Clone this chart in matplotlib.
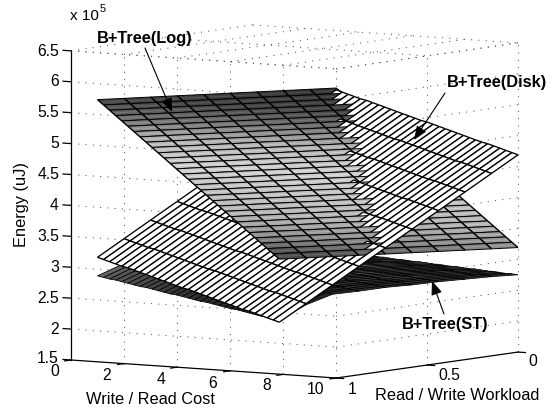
"""energy surfaces of the three B+Tree variants, matlab style 3D view"""
import numpy as np
import matplotlib
matplotlib.use("Agg")
import matplotlib.pyplot as plt
from matplotlib.collections import PolyCollection
from mpl_toolkits.mplot3d import proj3d

plt.rcParams['font.family'] = ['Liberation Sans', 'DejaVu Sans']

W, H = 557, 409

x_cost = [1, 2, 3, 4, 5, 6, 7, 8, 9, 10]
y_workload = [j / 30 for j in range(31)]

x_ticks = [0, 2, 4, 6, 8, 10]
y_ticks = [0, 0.5, 1]
z_ticks = [1.5, 2, 2.5, 3, 3.5, 4, 4.5, 5, 5.5, 6, 6.5]
z_tick_labels = ['1.5', '2', '2.5', '3', '3.5', '4', '4.5', '5', '5.5', '6', '6.5']

# energy in units of 1e5 uJ, one row per workload value, one column per cost
log_energy = [
    [2.74, 2.79, 2.84, 2.89, 2.94, 2.99, 3.04, 3.09, 3.14, 3.19],
    [2.84, 2.89, 2.94, 2.99, 3.04, 3.09, 3.14, 3.19, 3.24, 3.29],
    [2.94, 2.99, 3.04, 3.09, 3.14, 3.19, 3.24, 3.29, 3.34, 3.39],
    [3.04, 3.09, 3.14, 3.19, 3.24, 3.29, 3.34, 3.39, 3.44, 3.49],
    [3.14, 3.19, 3.24, 3.29, 3.34, 3.39, 3.44, 3.49, 3.54, 3.59],
    [3.24, 3.29, 3.34, 3.39, 3.44, 3.49, 3.54, 3.59, 3.64, 3.69],
    [3.34, 3.39, 3.44, 3.49, 3.54, 3.59, 3.64, 3.69, 3.74, 3.79],
    [3.44, 3.49, 3.54, 3.59, 3.64, 3.69, 3.74, 3.79, 3.84, 3.89],
    [3.54, 3.59, 3.64, 3.69, 3.74, 3.79, 3.84, 3.89, 3.94, 3.99],
    [3.64, 3.69, 3.74, 3.79, 3.84, 3.89, 3.94, 3.99, 4.04, 4.09],
    [3.74, 3.79, 3.84, 3.89, 3.94, 3.99, 4.04, 4.09, 4.14, 4.19],
    [3.84, 3.89, 3.94, 3.99, 4.04, 4.09, 4.14, 4.19, 4.24, 4.29],
    [3.94, 3.99, 4.04, 4.09, 4.14, 4.19, 4.24, 4.29, 4.34, 4.39],
    [4.04, 4.09, 4.14, 4.19, 4.24, 4.29, 4.34, 4.39, 4.44, 4.49],
    [4.14, 4.19, 4.24, 4.29, 4.34, 4.39, 4.44, 4.49, 4.54, 4.59],
    [4.24, 4.29, 4.34, 4.39, 4.44, 4.49, 4.54, 4.59, 4.64, 4.69],
    [4.34, 4.39, 4.44, 4.49, 4.54, 4.59, 4.64, 4.69, 4.74, 4.79],
    [4.44, 4.49, 4.54, 4.59, 4.64, 4.69, 4.74, 4.79, 4.84, 4.89],
    [4.54, 4.59, 4.64, 4.69, 4.74, 4.79, 4.84, 4.89, 4.94, 4.99],
    [4.64, 4.69, 4.74, 4.79, 4.84, 4.89, 4.94, 4.99, 5.04, 5.09],
    [4.74, 4.79, 4.84, 4.89, 4.94, 4.99, 5.04, 5.09, 5.14, 5.19],
    [4.84, 4.89, 4.94, 4.99, 5.04, 5.09, 5.14, 5.19, 5.24, 5.29],
    [4.94, 4.99, 5.04, 5.09, 5.14, 5.19, 5.24, 5.29, 5.34, 5.39],
    [5.04, 5.09, 5.14, 5.19, 5.24, 5.29, 5.34, 5.39, 5.44, 5.49],
    [5.14, 5.19, 5.24, 5.29, 5.34, 5.39, 5.44, 5.49, 5.54, 5.59],
    [5.24, 5.29, 5.34, 5.39, 5.44, 5.49, 5.54, 5.59, 5.64, 5.69],
    [5.34, 5.39, 5.44, 5.49, 5.54, 5.59, 5.64, 5.69, 5.74, 5.79],
    [5.44, 5.49, 5.54, 5.59, 5.64, 5.69, 5.74, 5.79, 5.84, 5.89],
    [5.54, 5.59, 5.64, 5.69, 5.74, 5.79, 5.84, 5.89, 5.94, 5.99],
    [5.64, 5.69, 5.74, 5.79, 5.84, 5.89, 5.94, 5.99, 6.04, 6.09],
    [5.74, 5.79, 5.84, 5.89, 5.94, 5.99, 6.04, 6.09, 6.14, 6.19],
]

disk_energy = [
    [1.72, 2.05, 2.38, 2.71, 3.04, 3.37, 3.70, 4.03, 4.36, 4.69],
    [1.77, 2.10, 2.43, 2.76, 3.09, 3.42, 3.75, 4.08, 4.41, 4.74],
    [1.82, 2.15, 2.48, 2.81, 3.14, 3.47, 3.80, 4.13, 4.46, 4.79],
    [1.87, 2.20, 2.53, 2.86, 3.19, 3.52, 3.85, 4.18, 4.51, 4.84],
    [1.92, 2.25, 2.58, 2.91, 3.24, 3.57, 3.90, 4.23, 4.56, 4.89],
    [1.97, 2.30, 2.63, 2.96, 3.29, 3.62, 3.95, 4.28, 4.61, 4.94],
    [2.01, 2.34, 2.67, 3.00, 3.33, 3.66, 3.99, 4.32, 4.65, 4.98],
    [2.06, 2.39, 2.72, 3.05, 3.38, 3.71, 4.04, 4.37, 4.70, 5.03],
    [2.11, 2.44, 2.77, 3.10, 3.43, 3.76, 4.09, 4.42, 4.75, 5.08],
    [2.16, 2.49, 2.82, 3.15, 3.48, 3.81, 4.14, 4.47, 4.80, 5.13],
    [2.21, 2.54, 2.87, 3.20, 3.53, 3.86, 4.19, 4.52, 4.85, 5.18],
    [2.26, 2.59, 2.92, 3.25, 3.58, 3.91, 4.24, 4.57, 4.90, 5.23],
    [2.31, 2.64, 2.97, 3.30, 3.63, 3.96, 4.29, 4.62, 4.95, 5.28],
    [2.36, 2.69, 3.02, 3.35, 3.68, 4.01, 4.34, 4.67, 5.00, 5.33],
    [2.41, 2.74, 3.07, 3.40, 3.73, 4.06, 4.39, 4.72, 5.05, 5.38],
    [2.46, 2.79, 3.12, 3.45, 3.78, 4.11, 4.44, 4.77, 5.10, 5.43],
    [2.50, 2.83, 3.16, 3.49, 3.82, 4.15, 4.48, 4.81, 5.14, 5.47],
    [2.55, 2.88, 3.21, 3.54, 3.87, 4.20, 4.53, 4.86, 5.19, 5.52],
    [2.60, 2.93, 3.26, 3.59, 3.92, 4.25, 4.58, 4.91, 5.24, 5.57],
    [2.65, 2.98, 3.31, 3.64, 3.97, 4.30, 4.63, 4.96, 5.29, 5.62],
    [2.70, 3.03, 3.36, 3.69, 4.02, 4.35, 4.68, 5.01, 5.34, 5.67],
    [2.75, 3.08, 3.41, 3.74, 4.07, 4.40, 4.73, 5.06, 5.39, 5.72],
    [2.80, 3.13, 3.46, 3.79, 4.12, 4.45, 4.78, 5.11, 5.44, 5.77],
    [2.85, 3.18, 3.51, 3.84, 4.17, 4.50, 4.83, 5.16, 5.49, 5.82],
    [2.90, 3.23, 3.56, 3.89, 4.22, 4.55, 4.88, 5.21, 5.54, 5.87],
    [2.95, 3.28, 3.61, 3.94, 4.27, 4.60, 4.93, 5.26, 5.59, 5.92],
    [2.99, 3.32, 3.65, 3.98, 4.31, 4.64, 4.97, 5.30, 5.63, 5.96],
    [3.04, 3.37, 3.70, 4.03, 4.36, 4.69, 5.02, 5.35, 5.68, 6.01],
    [3.09, 3.42, 3.75, 4.08, 4.41, 4.74, 5.07, 5.40, 5.73, 6.06],
    [3.14, 3.47, 3.80, 4.13, 4.46, 4.79, 5.12, 5.45, 5.78, 6.11],
    [3.19, 3.52, 3.85, 4.18, 4.51, 4.84, 5.17, 5.50, 5.83, 6.16],
]

st_energy = [
    [1.75, 2.03, 2.23, 2.31, 2.40, 2.47, 2.55, 2.62, 2.69, 2.75],
    [1.79, 2.07, 2.27, 2.35, 2.43, 2.50, 2.58, 2.65, 2.72, 2.78],
    [1.83, 2.10, 2.30, 2.38, 2.47, 2.54, 2.61, 2.68, 2.75, 2.80],
    [1.86, 2.14, 2.34, 2.42, 2.50, 2.57, 2.64, 2.71, 2.77, 2.83],
    [1.90, 2.18, 2.37, 2.45, 2.53, 2.60, 2.67, 2.74, 2.80, 2.86],
    [1.94, 2.21, 2.41, 2.49, 2.57, 2.63, 2.71, 2.77, 2.83, 2.88],
    [1.98, 2.25, 2.44, 2.52, 2.60, 2.67, 2.74, 2.80, 2.86, 2.91],
    [2.02, 2.28, 2.48, 2.56, 2.64, 2.70, 2.77, 2.83, 2.89, 2.94],
    [2.05, 2.32, 2.51, 2.59, 2.67, 2.73, 2.80, 2.86, 2.91, 2.96],
    [2.09, 2.36, 2.55, 2.63, 2.70, 2.76, 2.83, 2.89, 2.94, 2.99],
    [2.13, 2.39, 2.58, 2.66, 2.74, 2.80, 2.86, 2.92, 2.97, 3.02],
    [2.17, 2.43, 2.62, 2.70, 2.77, 2.83, 2.89, 2.95, 3.00, 3.04],
    [2.21, 2.47, 2.65, 2.73, 2.80, 2.86, 2.92, 2.98, 3.03, 3.07],
    [2.24, 2.50, 2.69, 2.77, 2.84, 2.90, 2.95, 3.01, 3.05, 3.10],
    [2.28, 2.54, 2.72, 2.80, 2.87, 2.93, 2.98, 3.04, 3.08, 3.12],
    [2.32, 2.57, 2.76, 2.84, 2.91, 2.96, 3.02, 3.07, 3.11, 3.15],
    [2.36, 2.61, 2.79, 2.87, 2.94, 2.99, 3.05, 3.10, 3.14, 3.18],
    [2.40, 2.65, 2.83, 2.91, 2.97, 3.03, 3.08, 3.12, 3.17, 3.20],
    [2.43, 2.68, 2.86, 2.94, 3.01, 3.06, 3.11, 3.15, 3.19, 3.23],
    [2.47, 2.72, 2.90, 2.98, 3.04, 3.09, 3.14, 3.18, 3.22, 3.26],
    [2.51, 2.76, 2.93, 3.01, 3.07, 3.12, 3.17, 3.21, 3.25, 3.28],
    [2.55, 2.79, 2.97, 3.05, 3.11, 3.16, 3.20, 3.24, 3.28, 3.31],
    [2.59, 2.83, 3.00, 3.08, 3.14, 3.19, 3.23, 3.27, 3.31, 3.34],
    [2.62, 2.86, 3.04, 3.12, 3.18, 3.22, 3.26, 3.30, 3.33, 3.36],
    [2.66, 2.90, 3.07, 3.15, 3.21, 3.25, 3.29, 3.33, 3.36, 3.39],
    [2.70, 2.94, 3.11, 3.19, 3.24, 3.29, 3.33, 3.36, 3.39, 3.42],
    [2.74, 2.97, 3.14, 3.22, 3.28, 3.32, 3.36, 3.39, 3.42, 3.44],
    [2.78, 3.01, 3.18, 3.26, 3.31, 3.35, 3.39, 3.42, 3.45, 3.47],
    [2.81, 3.05, 3.21, 3.29, 3.34, 3.39, 3.42, 3.45, 3.47, 3.50],
    [2.85, 3.08, 3.25, 3.33, 3.38, 3.42, 3.45, 3.48, 3.50, 3.52],
    [2.89, 3.12, 3.28, 3.36, 3.41, 3.45, 3.48, 3.51, 3.53, 3.55],
]

# gray level against energy, the colormap of the log and st surfaces
gray_z = [1.7, 2.5, 2.9, 3.2, 3.6, 4.5, 5.0, 5.4, 5.74, 6.2]
gray_v = [0.08, 0.2, 0.33, 0.55, 0.7, 0.8, 0.7, 0.44, 0.27, 0.2]


def to_px(x, y, z):
    xs, ys, zs = proj3d.proj_transform(x, y, z, ax.get_proj())
    px = ax.transData.transform((xs, ys))
    return px[0], H - px[1], zs


def cells(energy, row_lw, col_lw, white=False, streak=False):
    """depth sorted drawing items of one surface: face, then its four edges"""
    z = np.array(energy)
    out = []
    for j in range(len(y_workload) - 1):
        for i in range(len(x_cost) - 1):
            pts = [to_px(x_cost[i], y_workload[j], z[j, i]),
                   to_px(x_cost[i + 1], y_workload[j], z[j, i + 1]),
                   to_px(x_cost[i + 1], y_workload[j + 1], z[j + 1, i + 1]),
                   to_px(x_cost[i], y_workload[j + 1], z[j + 1, i])]
            a, b, c, d = [p[:2] for p in pts]
            g = 1.0 if white else np.interp(z[j:j + 2, i:i + 2].mean(), gray_z, gray_v)
            items = [([a, b, c, d], (g, g, g, 1), 'none', 0)]
            if streak:
                m0 = ((a[0] + d[0]) / 2, (a[1] + d[1]) / 2)
                m1 = ((b[0] + c[0]) / 2, (b[1] + c[1]) / 2)
                g2 = min(g + 0.1, 1)
                items.append(([m0, m1], 'none', (g2, g2, g2, 1), 0.6))
            items.append(([a, b], 'none', 'k', row_lw))
            items.append(([d, c], 'none', 'k', row_lw))
            items.append(([a, d], 'none', 'k', col_lw))
            items.append(([b, c], 'none', 'k', col_lw))
            out.append((np.mean([p[2] for p in pts]), items))
    return out


fig = plt.figure(figsize=(W / 100, H / 100), dpi=100)
ax = fig.add_axes([0, 0, 400 / W, 400 / H], projection='3d', proj_type='ortho')
ax.computed_zorder = False
ax.view_init(elev=-5.65, azim=-124.6)
ax.set_box_aspect((322, 320, 310.5))
ax.set_axis_off()

# dotted grid on the far walls and on the top plane
grid = dict(color='#555555', lw=0.75, ls=(0, (1, 6)), zorder=1)
for x in x_ticks[1:]:
    ax.plot([x, x], [1, 1], [1.5, 6.5], **grid)
for y in y_ticks[:-1]:
    ax.plot([10, 10], [y, y], [1.5, 6.5], **grid)
for z in z_ticks[1:]:
    ax.plot([0, 10], [1, 1], [z, z], **grid)
    ax.plot([10, 10], [1, 0], [z, z], **grid)
for x in x_ticks:
    ax.plot([x, x], [1, 0], [6.5, 6.5], **grid)
for y in y_ticks:
    ax.plot([0, 10], [y, y], [6.5, 6.5], **grid)

# the axes and their ticks
line = dict(color='k', lw=0.9, zorder=3)
ax.plot([0, 0], [1, 1], [1.5, 6.5], **line)
ax.plot([0, 10], [1, 1], [1.5, 1.5], **line)
ax.plot([10, 10], [1, 0], [1.5, 1.5], **line)
for z in z_ticks:
    ax.plot([0, -0.3], [1, 1], [z, z], **line)
for x in x_ticks:
    ax.plot([x, x], [1, 1.035], [1.5, 1.5], **line)
for y in y_ticks:
    ax.plot([10, 10.28], [y, y], [1.5, 1.5], **line)

ax.set_xlim(0, 10)
ax.set_ylim(0, 1)
ax.set_zlim(1.5, 6.5)

# size and place the axes so that the floor corners land where they should
ax.apply_aspect()
span = to_px(10, 0, 1.5)[0] - to_px(0, 1, 1.5)[0]
size = 400 * 447 / span
ax.set_position([0, 0, size / W, size / H])
ax.apply_aspect()
p = to_px(0, 1, 1.5)
ax.set_position([(71 - p[0]) / W, (p[1] - 360) / H, size / W, size / H])
ax.apply_aspect()

# overlay in pixel coordinates of the picture, for surfaces, texts and arrows
ov = fig.add_axes([0, 0, 1, 1], zorder=5)
ov.set_xlim(0, W)
ov.set_ylim(H, 0)
ov.axis('off')

# st lies behind the other two everywhere, log and disk sort against each other
st_cells = sorted(cells(st_energy, 0.55, 0.55), key=lambda c: -c[0])
top_cells = cells(log_energy, 0.7, 1.0, streak=True) + cells(disk_energy, 0.95, 0.95, white=True)
top_cells.sort(key=lambda c: -c[0])

polys, faces, edges, widths = [], [], [], []
for depth, items in st_cells + top_cells:
    for poly, fc, ec, lw in items:
        polys.append(poly)
        faces.append(fc)
        edges.append(ec)
        widths.append(lw)
ov.add_collection(PolyCollection(polys, facecolors=faces, edgecolors=edges,
                                 linewidths=widths, closed=False, zorder=1))

for z, lab in zip(z_ticks, z_tick_labels):
    py = 358.5 if lab == '1.5' else 360 - (z - 1.5) * 61.8
    ov.text(59, py, lab, ha='right', va='center', fontsize=11.3)
ov.text(55, 372, '0', ha='center', va='center', fontsize=11.3)
for lab, px, py in [('2', 107, 375), ('4', 161, 379), ('6', 213, 383), ('8', 267, 386), ('10', 316, 389)]:
    ov.text(px, py, lab, ha='center', va='center', fontsize=11.3)
for lab, px, py in [('1', 352, 389), ('0.5', 449, 375), ('0', 533, 361)]:
    ov.text(px, py, lab, ha='center', va='center', fontsize=11.3)
ov.text(150, 399, 'Write / Read Cost', ha='center', va='center', fontsize=11.8)
ov.text(457, 396, 'Read / Write Workload', ha='center', va='center', fontsize=11.8)
ov.text(22, 205, 'Energy (uJ)', ha='center', va='center', rotation=90, fontsize=11.8)
ov.text(70, 16, 'x 10', ha='left', va='center', fontsize=11)
ov.text(100, 9, '5', ha='left', va='center', fontsize=8)

arrow = dict(arrowstyle='-|>,head_width=0.28,head_length=0.7', color='k', lw=0.8,
             mutation_scale=12, shrinkA=0, shrinkB=0)
ov.annotate('', xy=(172, 112), xytext=(145, 48), arrowprops=arrow, zorder=3)
ov.annotate('', xy=(414, 140), xytext=(445, 93), arrowprops=arrow, zorder=3)
ov.annotate('', xy=(432, 281), xytext=(444, 314), arrowprops=arrow, zorder=3)
ov.text(145, 39, 'B+Tree(Log)', ha='center', va='center', fontsize=11.8, fontweight='bold')
ov.text(497, 83, 'B+Tree(Disk)', ha='center', va='center', fontsize=11.8, fontweight='bold')
ov.text(445, 325, 'B+Tree(ST)', ha='center', va='center', fontsize=11.8, fontweight='bold')

fig.savefig('out.png', dpi=100)
